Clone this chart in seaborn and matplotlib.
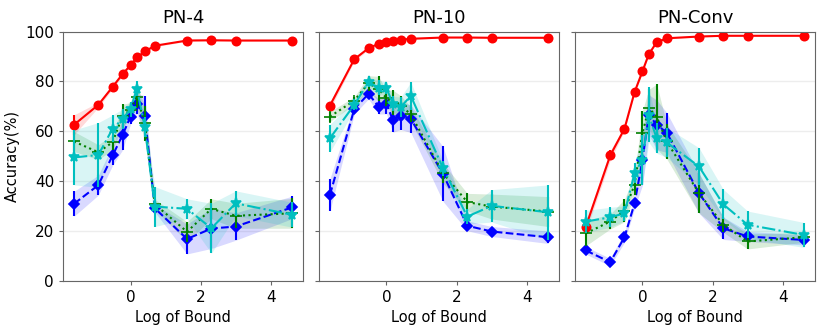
import numpy as np
import pandas as pd
import seaborn as sns
from matplotlib import pyplot as plt

# x positions: log of the bound values
bounds = [0.2, 0.4, 0.6, 0.8, 1.0, 1.2, 1.5, 2.0, 5.0, 10.0, 20.0, 100.0]
log_bound = np.log(bounds)

panels = ["PN-4", "PN-10", "PN-Conv"]

# mean accuracy (%) and std per series, per panel
red_mean = {
    "PN-4": [62.6, 70.6, 77.8, 83.0, 86.5, 89.6, 92.0, 94.3, 96.4, 96.5, 96.4, 96.4],
    "PN-10": [70.3, 88.9, 93.3, 95.1, 96.0, 96.4, 96.7, 97.1, 97.6, 97.6, 97.5, 97.5],
    "PN-Conv": [21.8, 50.3, 61.0, 75.7, 84.0, 90.9, 95.7, 97.3, 98.0, 98.3, 98.3, 98.3],
}
red_std = {
    "PN-4": [4, 1, 0.8, 0.8, 0.6, 0.5, 0.5, 0.4, 0.3, 0.3, 0.3, 0.3],
    "PN-10": [1.5, 0.8, 0.5, 0.4, 0.3, 0.3, 0.3, 0.3, 0.2, 0.2, 0.2, 0.2],
    "PN-Conv": [2, 2, 0.8, 0.6, 0.5, 0.4, 0.3, 0.3, 0.2, 0.2, 0.2, 0.2],
}
blue_mean = {
    "PN-4": [30.9, 38.4, 50.3, 58.6, 65.9, 71.1, 66.3, 29.1, 16.8, 21.0, 21.8, 29.5],
    "PN-10": [34.5, 68.9, 75.0, 69.9, 71.0, 64.6, 66.2, 65.0, 42.9, 22.1, 19.8, 17.5],
    "PN-Conv": [12.2, 7.5, 17.5, 31.1, 48.3, 66.6, 62.6, 59.5, 35.2, 21.1, 17.8, 16.4],
}
blue_std = {
    "PN-4": [5, 4, 4, 6, 3, 4, 8, 1.5, 6, 8, 5.5, 4.5],
    "PN-10": [6.5, 2, 2, 3, 4, 5, 5.5, 5.5, 11, 2, 2, 2.5],
    "PN-Conv": [1.5, 1.5, 2, 2, 10, 8, 10, 8, 8, 4.5, 2, 2],
}
green_mean = {
    "PN-4": [55.9, 51.6, 55.6, 66.3, 68.6, 73.9, 63.2, 30.7, 19.7, 28.9, 26.1, 27.1],
    "PN-10": [65.9, 72.3, 79.3, 77.0, 73.3, 71.5, 70.3, 66.8, 43.2, 31.6, 29.8, 27.8],
    "PN-Conv": [19.1, 23.8, 28.2, 38.5, 59.2, 69.3, 65.9, 55.9, 35.2, 22.5, 15.8, 17.5],
}
green_std = {
    "PN-4": [4, 3, 3, 4.5, 3, 4.5, 7, 2, 4, 4, 5, 6],
    "PN-10": [2, 1.5, 3, 5, 3, 5, 4, 3, 4, 3.5, 5, 6],
    "PN-Conv": [5, 3, 4.5, 4, 9, 7.5, 13, 7, 8, 3, 3, 2],
}
cyan_mean = {
    "PN-4": [49.5, 50.5, 61.0, 65.0, 68.9, 77.0, 61.9, 29.8, 28.9, 21.1, 31.1, 26.5],
    "PN-10": [57.2, 70.6, 79.7, 77.5, 77.3, 71.0, 69.7, 74.2, 45.2, 25.8, 30.1, 27.5],
    "PN-Conv": [23.8, 25.5, 27.1, 43.2, 48.5, 66.6, 57.2, 55.5, 45.9, 30.7, 22.5, 18.4],
}
cyan_std = {
    "PN-4": [11, 13, 5.5, 4, 3, 3, 4, 8, 4, 10, 5, 5],
    "PN-10": [5.5, 2, 2, 3, 2.5, 3, 4, 5.5, 3, 3, 6.5, 11],
    "PN-Conv": [4.5, 4, 3, 4, 10, 11, 6, 6, 7.5, 6, 5.5, 5],
}

series = [
    (red_mean, red_std, "red", "-", "o", 6),
    (blue_mean, blue_std, "blue", "--", "D", 5),
    (green_mean, green_std, "green", ":", "+", 9),
    (cyan_mean, cyan_std, "c", "-.", "*", 8),
]

sns.set_style("whitegrid")
plt.rcParams["font.family"] = ["DejaVu Sans"]
plt.rcParams["axes.edgecolor"] = "0.4"
plt.rcParams["text.color"] = "black"
plt.rcParams["axes.labelcolor"] = "black"
plt.rcParams["xtick.color"] = "black"
plt.rcParams["ytick.color"] = "black"

fig, axes = plt.subplots(1, 3, figsize=(8.3, 3.32), dpi=100, sharey=True)
fig.subplots_adjust(left=0.076, right=0.982, top=0.905, bottom=0.154, wspace=0.066)

for ax, name in zip(axes, panels):
    for mean_d, std_d, color, ls, marker, ms in series:
        m = np.array(mean_d[name])
        s = np.array(std_d[name])
        df = pd.DataFrame({"x": log_bound, "y": m})
        ax.fill_between(log_bound, m - s, m + s, color=color, alpha=0.15, linewidth=0)
        ax.errorbar(log_bound, m, yerr=s, fmt="none", ecolor=color, elinewidth=1.5)
        sns.lineplot(data=df, x="x", y="y", ax=ax, color=color, linestyle=ls,
                     marker=marker, markersize=ms, markeredgecolor=color,
                     markeredgewidth=1.2, linewidth=1.5)
    ax.set_title(name, fontsize=13)
    ax.set_xlabel("Log of Bound", fontsize=10.5)
    ax.set_ylabel("Accuracy(%)" if ax is axes[0] else "", fontsize=10.5)
    ax.set_ylim(0, 100)
    ax.set_yticks([0, 20, 40, 60, 80, 100])
    ax.set_xticks([0, 2, 4])
    ax.xaxis.grid(False)
    ax.yaxis.grid(True, color="0.93", linewidth=1)
    ax.tick_params(axis="both", labelsize=11, length=3, color="0.4", left=True, bottom=True)

fig.savefig("out.png", dpi=100)
